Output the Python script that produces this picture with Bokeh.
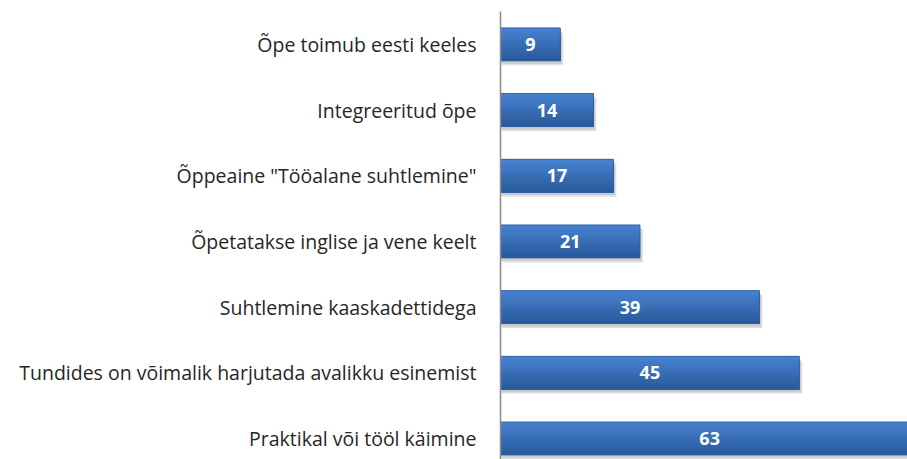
from bokeh.plotting import figure
from bokeh.models import ColumnDataSource, Range1d, FixedTicker
from bokeh.transform import dodge
from bokeh.core.properties import value
from bokeh.embed import file_html
from bokeh.resources import INLINE

categories = [
    "Õpe toimub eesti keeles",
    "Integreeritud õpe",
    'Õppeaine "Tööalane suhtlemine"',
    "Õpetatakse inglise ja vene keelt",
    "Suhtlemine kaaskadettidega",
    "Tundides on võimalik harjutada avalikku esinemist",
    "Praktikal või tööl käimine",
]
values = [9, 14, 17, 21, 39, 45, 63]

n = len(categories)
ypos = [n - 1 - i for i in range(n)]
src = ColumnDataSource(dict(
    y=ypos, v=values, mid=[v / 2 for v in values],
    lab=[str(v) for v in values],
    vs=[v + 0.45 for v in values],
))

p = figure(width=907, height=459, output_backend="svg", toolbar_location=None,
           x_range=Range1d(0, 61.3), y_range=Range1d(-0.32, 6.5),
           min_border_left=500, min_border_right=0, min_border_top=11, min_border_bottom=0)
p.outline_line_color = None
p.grid.visible = False
p.xaxis.visible = False
p.background_fill_color = "white"

bh = 0.5
# shadow
p.hbar(y=dodge("y", -0.07, range=p.y_range), left=0.2, right="vs", height=bh,
       source=src, fill_color="#bdbdbd", fill_alpha=0.45, line_color=None)
p.hbar(y=dodge("y", -0.045, range=p.y_range), left=0.1, right=dodge("v", 0.25, range=p.x_range), height=bh,
       source=src, fill_color="#a9a9a9", fill_alpha=0.4, line_color=None)

# gradient bar simulated by bottom-anchored layers
top_c = (0x46, 0x82, 0xD0)
bot_c = (0x2A, 0x5A, 0x9C)
k = 16
for j in range(k):
    t = j / (k - 1)
    c = tuple(int(round(top_c[i] + (bot_c[i] - top_c[i]) * t)) for i in range(3))
    col = "#%02x%02x%02x" % c
    h = bh - j * bh / k
    center = -bh / 2 + h / 2
    p.hbar(y=dodge("y", center, range=p.y_range), left=0, right="v", height=h,
           source=src, fill_color=col, line_color=None)
# border
p.hbar(y="y", left=0, right="v", height=bh, source=src,
       fill_color=None, line_color="#2F5E9F", line_width=1)

p.text(x="mid", y="y", text="lab", source=src, text_color="white",
       text_font=value("Open Sans"), text_font_size="18px", text_font_style="bold",
       text_align="center", text_baseline="middle")

ax = p.yaxis[0]
ax.ticker = FixedTicker(ticks=ypos)
ax.major_label_overrides = {y: c for y, c in zip(ypos, categories)}
ax.major_tick_line_color = None
ax.minor_tick_line_color = None
ax.axis_line_color = "#8a8a8a"
ax.axis_line_width = 1.5
ax.major_label_standoff = 18
ax.major_label_text_font = "Open Sans"
ax.major_label_text_font_size = "19.5px"
ax.major_label_text_color = "#262626"

open("out.html", "w").write(file_html(p, INLINE))
